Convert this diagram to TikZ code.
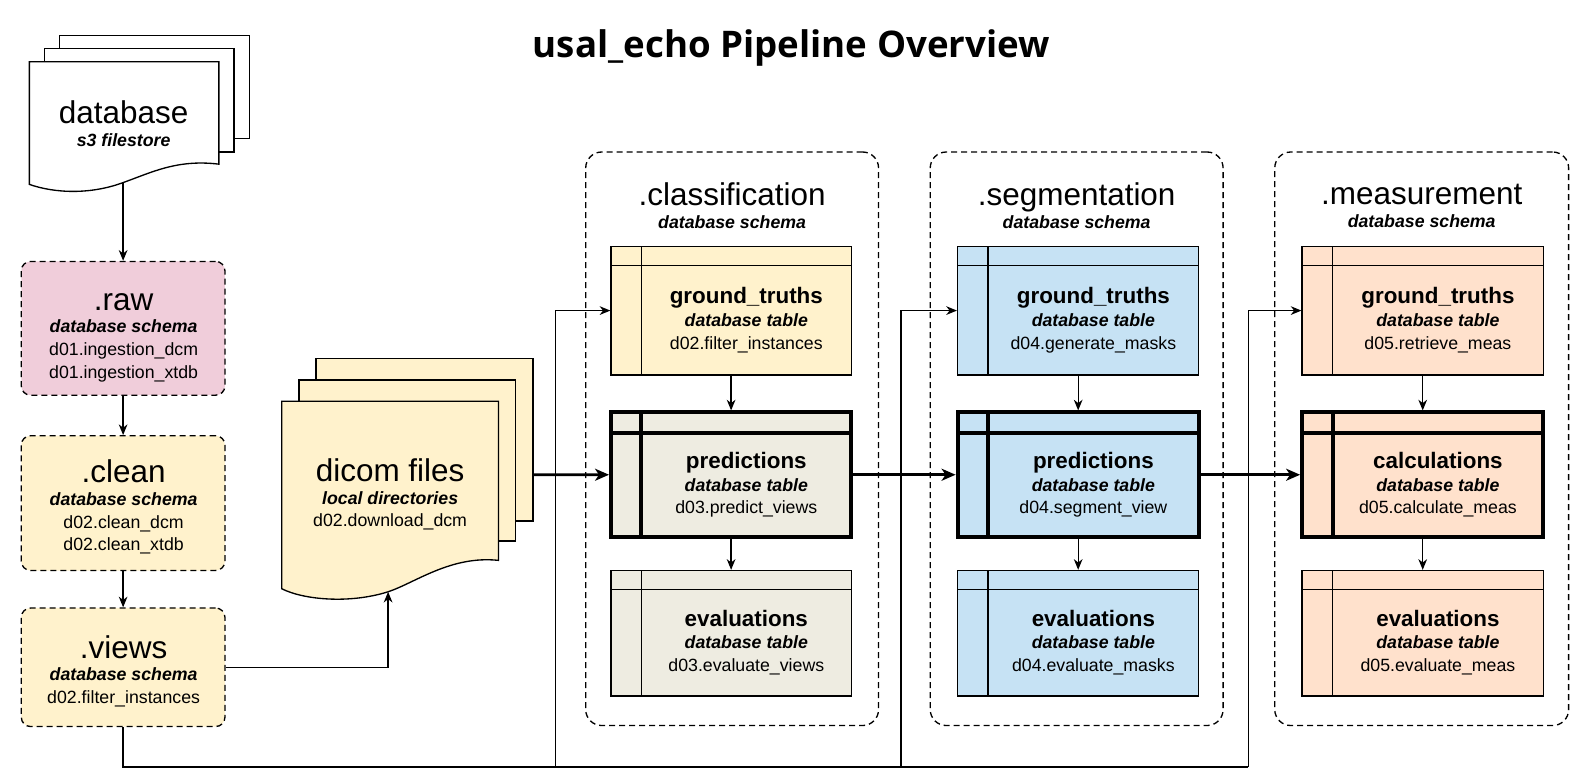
\documentclass[tikz,border=0pt]{standalone}
\usepackage{fontspec}
\setmainfont{Liberation Sans}
\newfontfamily\bodyfont{Liberation Sans}
\newfontfamily\titlefont{Open Sans}
\usepackage{xcolor}
\usetikzlibrary{arrows.meta,fit}

\definecolor{rawpink}{HTML}{F0CDDA}
\definecolor{cleanyel}{HTML}{FFF2CC}
\definecolor{clsbeige}{HTML}{EEECE1}
\definecolor{segblue}{HTML}{C6E2F4}
\definecolor{measorg}{HTML}{FFE1CC}

\newcommand\bigtxt{\fontsize{23.6}{28}\selectfont}
\newcommand\schtxt{\fontsize{13.3}{17}\selectfont\bfseries\itshape}
\newcommand\lbltxt{\fontsize{16.8}{19}\selectfont\bfseries}

\tikzset{
  txt/.style={align=center, font=\bodyfont\fontsize{13.3}{17}\selectfont},
  schema/.style={draw, dash pattern=on 4.5pt off 3pt, rounded corners=7pt},
  group/.style={draw, dash pattern=on 4.5pt off 3pt, rounded corners=12pt},
  tbl/.style={draw, path picture={
    \draw[line width=1pt] ([yshift=-14.4pt]path picture bounding box.north west) -- ([yshift=-14.4pt]path picture bounding box.north east);
    \draw[line width=1pt] ([xshift=22.8pt]path picture bounding box.north west) -- ([xshift=22.8pt]path picture bounding box.south west);}},
  tblbold/.style={draw, line width=3pt, path picture={
    \draw[line width=3pt] ([yshift=-15.2pt]path picture bounding box.north west) -- ([yshift=-15.2pt]path picture bounding box.north east);
    \draw[line width=3pt] ([xshift=22.8pt]path picture bounding box.north west) -- ([xshift=22.8pt]path picture bounding box.south west);}},
  flow/.style={->, line width=1.9pt, >={Stealth[length=10.5pt,width=9pt,inset=3pt]}},
}

\begin{document}
\begin{tikzpicture}[x=0.76pt,y=-0.76pt,line width=1pt,
  >={Stealth[length=8pt,width=6.5pt,inset=2.5pt]},every node/.style={inner sep=0pt}]
\useasboundingbox (0,0) rectangle (1568.1,772.7);

\pgfmathsetmacro{\BUS}{757}

% title
\node[font=\titlefont\bfseries\fontsize{27.5}{32}\selectfont] (title) at (781,47) {usal\_echo Pipeline Overview};

% database stack
\draw[fill=white] (59,35) rectangle (246,137);
\draw[fill=white] (44,48) rectangle (231,150);
\draw[fill=white] (29,61) -- (216,61) -- (216,162)
  .. controls (175,157) and (150,170) .. (122,180)
  .. controls (90,192) and (55,191) .. (29,182) -- cycle;
\node[txt] (db) at (122,122) {{\bigtxt database}\\{\schtxt s3 filestore}};
\coordinate (dbB) at (121.5,180);

% schemas on the left
\node[schema, fill=rawpink, fit={(21,258) (222,390)}] (raw) {};
\node[txt] (rawT) at (122,333) {{\bigtxt .raw}\\{\schtxt database schema}\\d01.ingestion\_dcm\\d01.ingestion\_xtdb};
\node[schema, fill=cleanyel, fit={(21,430) (222,563)}] (clean) {};
\node[txt] (cleanT) at (122,500.5) {{\bigtxt .clean}\\{\schtxt database schema}\\d02.clean\_dcm\\d02.clean\_xtdb};
\node[schema, fill=cleanyel, fit={(21,600) (222,717)}] (views) {};
\node[txt] (viewsT) at (122,662.5) {{\bigtxt .views}\\{\schtxt database schema}\\d02.filter\_instances};

\draw[->] (dbB) -- (raw.north);
\draw[->] (raw.south) -- (clean.north);
\draw[->] (clean.south) -- (views.north);

% dicom stack
\draw[fill=cleanyel] (312,354) rectangle (526,514);
\draw[fill=cleanyel] (295,375) rectangle (509,534);
\draw[fill=cleanyel] (278,396) -- (492,396) -- (492,553)
  .. controls (445,548) and (410,575) .. (383,584)
  .. controls (345,596) and (300,592) .. (278,581) -- cycle;
\node[txt] (dcm) at (385,488) {{\bigtxt dicom files}\\{\schtxt local directories}\\d02.download\_dcm};
\coordinate (dcmB) at (383,584);
\coordinate (dcmR) at (526,468.5);

\draw[->] (views.east) -| (dcmB);

% classification
\node[group, fit={(578,150) (867,716)}] (cls) {};
\node[txt] (clsT) at (722.5,203) {{\bigtxt .classification}\\{\schtxt database schema}};
\node[tbl, fill=cleanyel, fit={(603,243) (840,370)}] (clsGT) {};
\node[txt] (clsGTt) at (736.5,316) {{\lbltxt ground\_truths}\\{\schtxt database table}\\d02.filter\_instances};
\node[tblbold, fill=clsbeige, fit={(603,407) (840,530)}] (clsPR) {};
\node[txt] (clsPRt) at (736.5,478.5) {{\lbltxt predictions}\\{\schtxt database table}\\d03.predict\_views};
\node[tbl, fill=clsbeige, fit={(603,563) (840,687)}] (clsEV) {};
\node[txt] (clsEVt) at (736.5,634) {{\lbltxt evaluations}\\{\schtxt database table}\\d03.evaluate\_views};
\draw[->] (clsGT.south) -- (clsPR.north);
\draw[->] (clsPR.south) -- (clsEV.north);

% segmentation
\node[group, fit={(918,150) (1207,716)}] (seg) {};
\node[txt] (segT) at (1062.5,203) {{\bigtxt .segmentation}\\{\schtxt database schema}};
\node[tbl, fill=segblue, fit={(945,243) (1183,370)}] (segGT) {};
\node[txt] (segGTt) at (1079,316) {{\lbltxt ground\_truths}\\{\schtxt database table}\\d04.generate\_masks};
\node[tblbold, fill=segblue, fit={(945,407) (1183,530)}] (segPR) {};
\node[txt] (segPRt) at (1079,478.5) {{\lbltxt predictions}\\{\schtxt database table}\\d04.segment\_view};
\node[tbl, fill=segblue, fit={(945,563) (1183,687)}] (segEV) {};
\node[txt] (segEVt) at (1079,634) {{\lbltxt evaluations}\\{\schtxt database table}\\d04.evaluate\_masks};
\draw[->] (segGT.south) -- (segPR.north);
\draw[->] (segPR.south) -- (segEV.north);

% measurement
\node[group, fit={(1258,150) (1548,716)}] (meas) {};
\node[txt] (measT) at (1403,203) {{\bigtxt .measurement}\\{\schtxt database schema}};
\node[tbl, fill=measorg, fit={(1285,243) (1523,370)}] (measGT) {};
\node[txt] (measGTt) at (1419,316) {{\lbltxt ground\_truths}\\{\schtxt database table}\\d05.retrieve\_meas};
\node[tblbold, fill=measorg, fit={(1285,407) (1523,530)}] (measCA) {};
\node[txt] (measCAt) at (1419,478.5) {{\lbltxt calculations}\\{\schtxt database table}\\d05.calculate\_meas};
\node[tbl, fill=measorg, fit={(1285,563) (1523,687)}] (measEV) {};
\node[txt] (measEVt) at (1419,634) {{\lbltxt evaluations}\\{\schtxt database table}\\d05.evaluate\_meas};
\draw[->] (measGT.south) -- (measCA.north);
\draw[->] (measCA.south) -- (measEV.north);

% bus from views to the ground truths
\coordinate (bus1) at (548,\BUS);
\coordinate (bus2) at (889,\BUS);
\coordinate (bus3) at (1232,\BUS);
\draw (views.south) |- (bus3);
\draw[->] (bus1) |- (clsGT.west);
\draw[->] (bus2) |- (segGT.west);
\draw[->] (bus3) |- (measGT.west);

% main flow
\draw[flow] (dcmR) -- (clsPR.west);
\draw[flow] (clsPR.east) -- (segPR.west);
\draw[flow] (segPR.east) -- (measCA.west);
\end{tikzpicture}
\end{document}
